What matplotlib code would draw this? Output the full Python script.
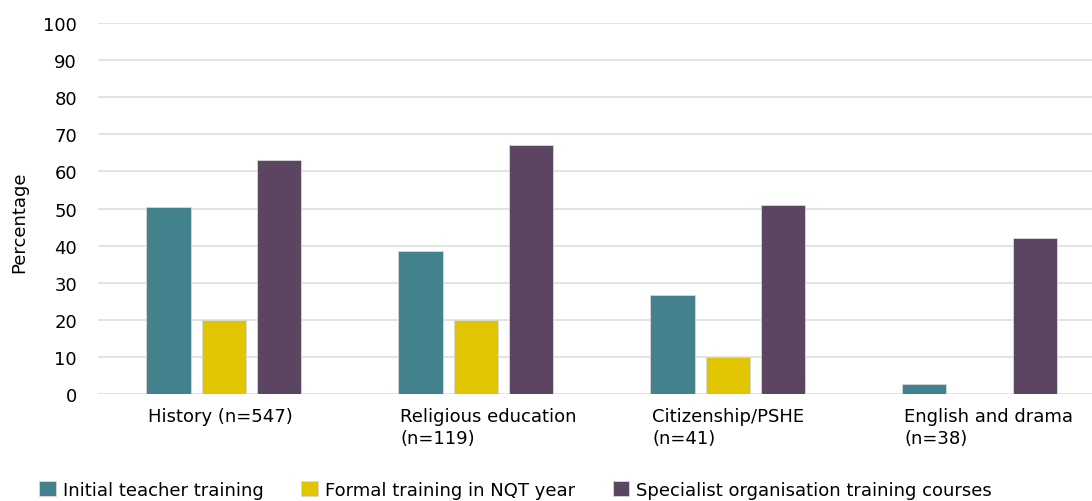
import matplotlib
matplotlib.use('Agg')
import matplotlib.pyplot as plt
import matplotlib.transforms as mtransforms
import numpy as np

plt.rcParams['font.family'] = ['DejaVu Sans']

categories = ['History (n=547)', 'Religious education\n(n=119)',
              'Citizenship/PSHE\n(n=41)', 'English and drama\n(n=38)']
series_names = ['Initial teacher training', 'Formal training in NQT year',
                'Specialist organisation training courses']
initial_teacher = [50.5, 38.5, 26.7, 2.7]
formal_nqt = [20, 20, 10, 0]
specialist = [63.1, 67.1, 51.0, 42.0]
colors = ['#43818C', '#E0C500', '#5C4561']
yticks = list(range(0, 101, 10))

fig = plt.figure(figsize=(10.92, 5.02), dpi=100)
# plot area runs a little past the right edge, as in the original
ax = fig.add_axes([0.0897, 0.213, 0.923, 0.739])

x = np.arange(len(categories))
width = 0.175
step = 0.22
for i, (vals, name) in enumerate(zip([initial_teacher, formal_nqt, specialist], series_names)):
    ax.bar(x + (i - 1) * step, vals, width, color=colors[i], label=name,
           edgecolor='#d8d8d8', linewidth=0.6, zorder=3)

ax.set_xlim(-0.5, len(categories) - 0.5)
ax.set_ylim(0, 100)
ax.set_yticks(yticks)
ax.yaxis.grid(True, color='#dedede', linewidth=1.2, zorder=0)
ax.tick_params(axis='y', length=0, pad=15, labelsize=13)
ax.set_xticks([])
for s in ax.spines.values():
    s.set_visible(False)
ax.set_ylabel('Percentage', fontsize=13)
ax.yaxis.set_label_coords(-0.069, 0.466)

# category labels, left aligned just under the first bar of each group
trans = mtransforms.blended_transform_factory(ax.transData, ax.transAxes)
for xi, lab in zip(x, categories):
    ax.text(xi - 0.3, -0.035, lab, transform=trans, ha='left', va='top',
            fontsize=13, linespacing=1.3)

fig.legend(loc='center left', bbox_to_anchor=(0.036, 0.022), ncol=3, frameon=False,
           fontsize=13, handlelength=0.9, handleheight=0.9, handletextpad=0.4,
           columnspacing=2.1, borderaxespad=0, borderpad=0)

fig.savefig('out.png', dpi=100)
